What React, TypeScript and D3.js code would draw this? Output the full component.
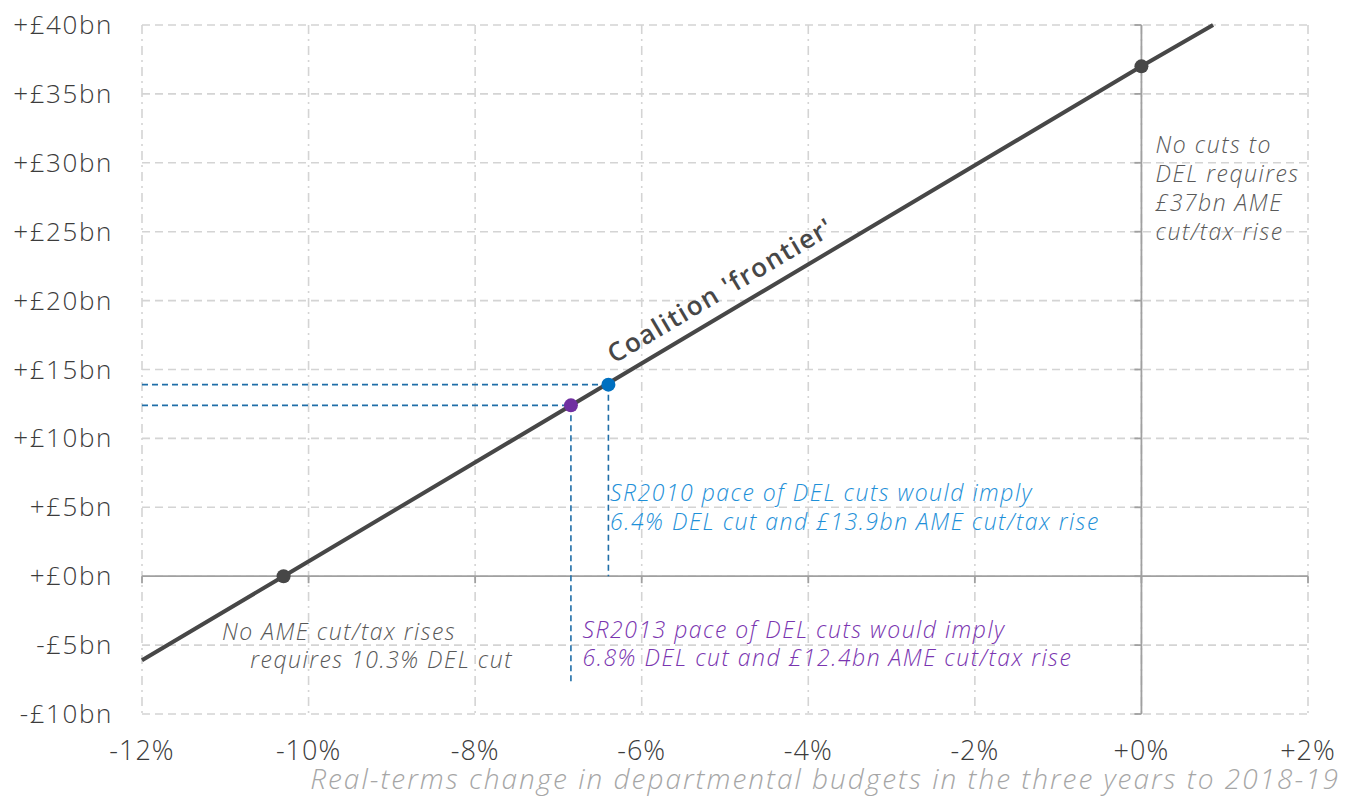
import React from "react";
import * as d3 from "d3";

const W = 1357;
const H = 796;

const xTicks = [-12, -10, -8, -6, -4, -2, 0, 2];
const xTickLabels = ["-12%", "-10%", "-8%", "-6%", "-4%", "-2%", "+0%", "+2%"];
const yTicks = [-10, -5, 0, 5, 10, 15, 20, 25, 30, 35, 40];
const yTickLabels = ["-£10bn", "-£5bn", "+£0bn", "+£5bn", "+£10bn", "+£15bn", "+£20bn", "+£25bn", "+£30bn", "+£35bn", "+£40bn"];

// Coalition frontier line (DEL change %, AME cut/tax rise £bn)
const frontierPct = [-12, -10.3, 0, 0.86];
const frontierBn = [-6.1, 0, 37, 40];

// Key points
const endPct = [-10.3, 0];
const endBn = [0, 37];
const sr2010 = { pct: -6.4, bn: 13.9, vEnd: 0 };
const sr2013 = { pct: -6.85, bn: 12.4, vEnd: -7.8 };

const xTitle = "Real-terms change in departmental budgets in the three years to 2018-19";

export default function App() {
  const left = 142, right = 1308, top = 25, bottom = 714;
  const x = d3.scaleLinear().domain([-12, 2]).range([left, right]);
  const y = d3.scaleLinear().domain([-10, 40]).range([bottom, top]);

  const linePts: [number, number][] = frontierPct.map((p, i) => [x(p), y(frontierBn[i])]);
  const line = d3.line()(linePts) || "";

  const gridColor = "#d4d4d4";
  const axisColor = "#a0a0a0";
  const guide = "#1f6ea8";
  const font = "'Open Sans', sans-serif";

  const ang = (Math.atan2(y(37) - y(0), x(0) - x(-10.3)) * 180) / Math.PI;
  const lblX = x(-6.33);
  const lblY = y(15.4);

  return (
    <svg width={W} height={H} style={{ position: "absolute", left: 0, top: 0, background: "#fff" }} fontFamily={font}>
      {yTicks.map((t) => (
        <line key={"h" + t} x1={left} x2={right} y1={y(t)} y2={y(t)} stroke={gridColor} strokeWidth={1.6} strokeDasharray="8,5" />
      ))}
      {xTicks.map((t) => (
        <line key={"v" + t} x1={x(t)} x2={x(t)} y1={top} y2={bottom} stroke={gridColor} strokeWidth={1.6} strokeDasharray="9,5,2,5" />
      ))}
      <line x1={left} x2={right} y1={y(0)} y2={y(0)} stroke={axisColor} strokeWidth={1.8} />
      <line x1={x(0)} x2={x(0)} y1={top} y2={bottom} stroke={axisColor} strokeWidth={1.8} />
      {xTicks.map((t) => (
        <line key={"xt" + t} x1={x(t)} x2={x(t)} y1={y(0)} y2={y(0) + 7} stroke={axisColor} strokeWidth={1.8} />
      ))}
      {yTicks.map((t) => (
        <line key={"yt" + t} x1={x(0) - 7} x2={x(0)} y1={y(t)} y2={y(t)} stroke={axisColor} strokeWidth={1.8} />
      ))}

      <line x1={left} x2={x(sr2010.pct)} y1={y(sr2010.bn)} y2={y(sr2010.bn)} stroke={guide} strokeWidth={1.6} strokeDasharray="6,4" />
      <line x1={x(sr2010.pct)} x2={x(sr2010.pct)} y1={y(sr2010.bn)} y2={y(sr2010.vEnd)} stroke={guide} strokeWidth={1.6} strokeDasharray="6,4" />
      <line x1={left} x2={x(sr2013.pct)} y1={y(sr2013.bn)} y2={y(sr2013.bn)} stroke={guide} strokeWidth={1.6} strokeDasharray="6,4" />
      <line x1={x(sr2013.pct)} x2={x(sr2013.pct)} y1={y(sr2013.bn)} y2={y(sr2013.vEnd)} stroke={guide} strokeWidth={1.6} strokeDasharray="6,4" />

      <path d={line} fill="none" stroke="#474747" strokeWidth={4} />
      {endPct.map((p, i) => (
        <circle key={"e" + i} cx={x(p)} cy={y(endBn[i])} r={7} fill="#474747" />
      ))}
      <circle cx={x(sr2010.pct)} cy={y(sr2010.bn)} r={7} fill="#0070c0" />
      <circle cx={x(sr2013.pct)} cy={y(sr2013.bn)} r={7} fill="#7030a0" />

      <text x={lblX} y={lblY} transform={`rotate(${ang},${lblX},${lblY})`} fontSize={26} fontWeight={600} fill="#474747" letterSpacing={1.5}>
        Coalition 'frontier'
      </text>

      {yTicks.map((t, i) => (
        <text key={"yl" + t} x={113} y={y(t) + 9} textAnchor="end" fontSize={26} fontWeight={300} fill="#3c3c3c" letterSpacing={1.6}>
          {yTickLabels[i]}
        </text>
      ))}
      {xTicks.map((t, i) => (
        <text key={"xl" + t} x={x(t)} y={760} textAnchor="middle" fontSize={27} fontWeight={300} fill="#3c3c3c" letterSpacing={1}>
          {xTickLabels[i]}
        </text>
      ))}
      <text x={1340} y={789} textAnchor="end" fontSize={28} fontWeight={300} fontStyle="italic" fill="#a6a6a6" letterSpacing={2}>
        {xTitle}
      </text>

      <g fontSize={23} fontWeight={300} fontStyle="italic" letterSpacing={1.5}>
        <text fill="#595959">
          <tspan x={x(0.17)} y={y(30.7)}>No cuts to</tspan>
          <tspan x={x(0.17)} y={y(30.7) + 29}>DEL requires</tspan>
          <tspan x={x(0.17)} y={y(30.7) + 58}>£37bn AME</tspan>
          <tspan x={x(0.17)} y={y(30.7) + 87}>cut/tax rise</tspan>
        </text>
        <text fill="#1e90d8">
          <tspan x={x(-6.38)} y={y(5.45)}>SR2010 pace of DEL cuts would imply</tspan>
          <tspan x={x(-6.38)} y={y(5.45) + 29}>6.4% DEL cut and £13.9bn AME cut/tax rise</tspan>
        </text>
        <text fill="#7a35b0">
          <tspan x={x(-6.71)} y={y(-4.5)}>SR2013 pace of DEL cuts would imply</tspan>
          <tspan x={x(-6.71)} y={y(-4.5) + 28}>6.8% DEL cut and £12.4bn AME cut/tax rise</tspan>
        </text>
        <text fill="#595959">
          <tspan x={x(-11.04)} y={y(-4.6)}>No AME cut/tax rises</tspan>
          <tspan x={x(-10.7)} y={y(-4.6) + 28}>requires 10.3% DEL cut</tspan>
        </text>
      </g>
    </svg>
  );
}
